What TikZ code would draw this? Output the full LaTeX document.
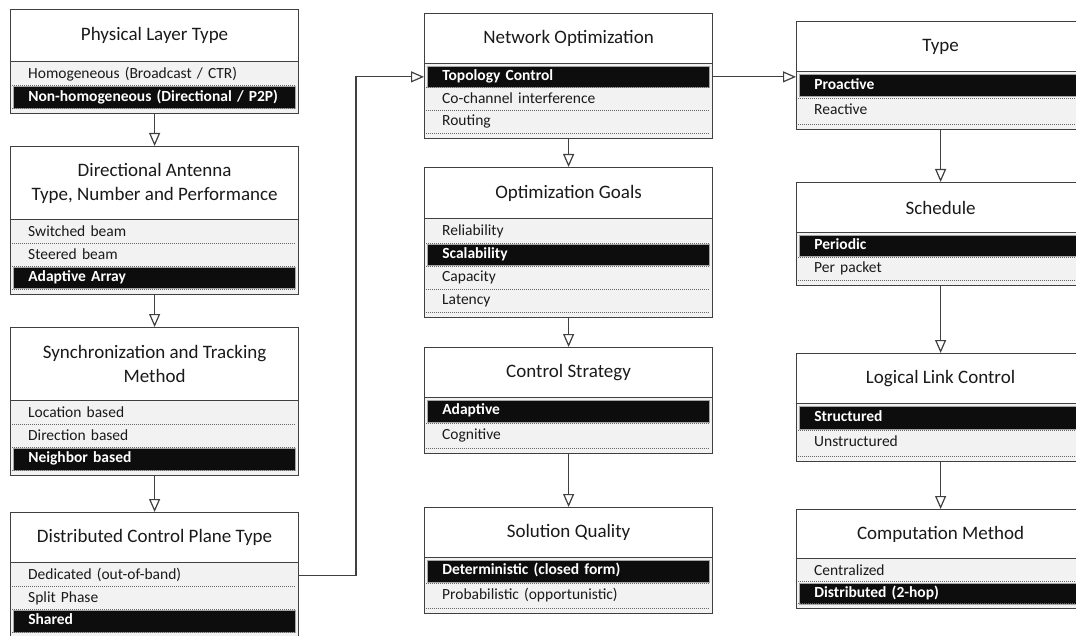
\documentclass[tikz,border=0pt]{standalone}
\usepackage{fontspec}
\setmainfont{Carlito}
\usetikzlibrary{arrows.meta,positioning}

\definecolor{boxline}{HTML}{404040}
\definecolor{txtgray}{HTML}{1A1A1A}
\definecolor{bodyfill}{HTML}{F2F2F2}
\definecolor{selfill}{HTML}{0D0D0D}

\tikzset{
  hdr/.style={draw=boxline, line width=1.2pt, fill=white, anchor=north west,
    minimum width=288pt, align=center, text=txtgray,
    font=\fontsize{19}{24}\selectfont},
  bodybox/.style={draw=boxline, line width=1.2pt, fill=bodyfill, anchor=north west,
    minimum width=288pt},
  optrow/.style={anchor=north west, text width=252pt, inner xsep=15pt, align=left,
    text height=11pt, text depth=3.5pt, text=txtgray,
    font=\fontsize{15.5}{18}\selectfont},
  selrow/.style={optrow, fill=selfill, draw=gray!70, line width=0.6pt, text=white,
    font=\fontsize{15.5}{18}\selectfont\bfseries},
  sep/.style={black!60, line width=0.9pt, dash pattern=on 1pt off 1pt},
  link/.style={draw=boxline, line width=1.2pt, -{Triangle[open, length=13pt, width=11pt]}}
}

% one category box: name, left, top, header bottom, bottom, rows, title, row list
\newcommand{\catbox}[8]{%
  \node[bodybox, minimum height={#5-#4}] (#1-b) at (#2,#4) {};
  \node[hdr, minimum height={#4-#3}] (#1) at (#2,#3) {#7};
  \pgfmathsetmacro{\rowh}{(#5-#4-7)/#6}
  \foreach \ri/\rk/\rt in {#8} {
    \node[\rk, minimum height={\rowh-3}] (#1-\ri) at (#2+3, {#4+3+(\ri-1)*\rowh}) {\rt};
    \draw[sep] (#2+2, {#4+2+\ri*\rowh}) -- ++(284,0);
  }
}

\begin{document}
\begin{tikzpicture}[x=1pt, y=-1pt]
  \clip (0,0) rectangle (1076,636);

  % left column
  \catbox{phy}{10}{9}{61}{113}{2}{Physical Layer Type}
    {1/optrow/{Homogeneous (Broadcast / CTR)}, 2/selrow/{Non-homogeneous (Directional / P2P)}}
  \catbox{ant}{10}{146}{219}{294}{3}{Directional Antenna\\Type, Number and Performance}
    {1/optrow/Switched beam, 2/optrow/Steered beam, 3/selrow/Adaptive Array}
  \catbox{syn}{10}{327}{400}{475}{3}{Synchronization and Tracking\\Method}
    {1/optrow/Location based, 2/optrow/Direction based, 3/selrow/Neighbor based}
  \catbox{dcp}{10}{512}{562}{637}{3}{Distributed Control Plane Type}
    {1/optrow/Dedicated (out-of-band), 2/optrow/Split Phase, 3/selrow/Shared}

  % middle column
  \catbox{net}{424}{13}{63}{138}{3}{Network Optimization}
    {1/selrow/Topology Control, 2/optrow/Co-channel interference, 3/optrow/Routing}
  \catbox{goal}{424}{167}{218}{317}{4}{Optimization Goals}
    {1/optrow/Reliability, 2/selrow/Scalability, 3/optrow/Capacity, 4/optrow/Latency}
  \catbox{ctl}{424}{347}{397}{453}{2}{Control Strategy}
    {1/selrow/Adaptive, 2/optrow/Cognitive}
  \catbox{sol}{424}{507}{557}{613}{2}{Solution Quality}
    {1/selrow/Deterministic (closed form), 2/optrow/Probabilistic (opportunistic)}

  % right column
  \catbox{typ}{796}{21}{71}{129}{2}{Type}
    {1/selrow/Proactive, 2/optrow/Reactive}
  \catbox{sch}{796}{182}{232}{285}{2}{Schedule}
    {1/selrow/Periodic, 2/optrow/Per packet}
  \catbox{llc}{796}{353}{403}{461}{2}{Logical Link Control}
    {1/selrow/Structured, 2/optrow/Unstructured}
  \catbox{cmp}{796}{509}{558}{608}{2}{Computation Method}
    {1/optrow/Centralized, 2/selrow/Distributed (2-hop)}

  % arrows down each column
  \draw[link] (phy-b.south) -- (ant.north);
  \draw[link] (ant-b.south) -- (syn.north);
  \draw[link] (syn-b.south) -- (dcp.north);
  \draw[link] (net-b.south) -- (goal.north);
  \draw[link] (goal-b.south) -- (ctl.north);
  \draw[link] (ctl-b.south) -- (sol.north);
  \draw[link] (typ-b.south) -- (sch.north);
  \draw[link] (sch-b.south) -- (llc.north);
  \draw[link] (llc-b.south) -- (cmp.north);

  % links between columns
  \coordinate (bend) at (356,0);
  \draw[link] (dcp-1 -| dcp-b.east) -- (dcp-1 -| bend) -- (net-1 -| bend) -- (net-1 -| net-b.west);
  \draw[link] (net-1 -| net-b.east) -- (net-1 -| typ-b.west);
\end{tikzpicture}
\end{document}
